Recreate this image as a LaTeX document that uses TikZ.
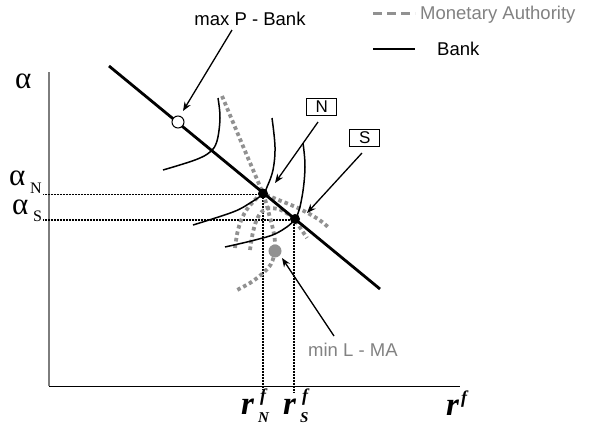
\documentclass[tikz,border=0pt]{standalone}
\usepackage{fontspec}
\setmainfont{Liberation Sans}
\newfontfamily\tms{Liberation Serif}
\usetikzlibrary{arrows.meta}
\definecolor{magray}{RGB}{145,145,145}
\definecolor{axgray}{RGB}{125,125,125}
\definecolor{txgray}{RGB}{130,130,130}
\newcommand{\fsz}[1]{\fontsize{#1}{#1}\selectfont}
\begin{document}
\begin{tikzpicture}[x=1pt,y=-1pt,
 lbl/.style={inner sep=0pt, font=\fsz{18.5}},
 axisv/.style={draw=axgray, line width=1.4pt},
 axish/.style={draw=black, line width=1pt},
 bankln/.style={line width=2.8pt},
 iso/.style={line width=1.5pt},
 maln/.style={draw=magray, line width=3.8pt, dash pattern=on 3.6pt off 3pt},
 guide/.style={line width=1.3pt, dash pattern=on 1pt off 0.5pt},
 arr/.style={line width=1.3pt, -{Stealth[length=9pt,width=7pt]}},
 boxlbl/.style={draw, line width=0.8pt, minimum width=30pt, minimum height=17pt, inner sep=0pt, font=\fsz{17}},
 greek/.style={inner sep=0pt, font=\tms\fsz{31}},
 gsub/.style={inner sep=0pt, font=\tms\fsz{16}},
 rlab/.style={inner sep=0pt, font=\tms\bfseries\itshape\fsz{33}},
 rsup/.style={inner sep=0pt, font=\tms\bfseries\itshape\fsz{18}},
 rsub/.style={inner sep=0pt, font=\tms\bfseries\itshape\fsz{15}},
]
\fill[white] (0,0) rectangle (595,426);
\useasboundingbox (0,0) rectangle (595,426);

% key points
\coordinate (N) at (263,193.5);
\coordinate (S) at (295,219);
\coordinate (L) at (275,251);
\coordinate (P) at (178,122);

% axes
\coordinate (O) at (49,386);
\coordinate (Ytop) at (49,72);
\coordinate (Xend) at (460,386);
\draw[axisv] (O) -- (Ytop);
\draw[axish] (O) -- (Xend);

% guide lines
\coordinate (gN) at (43,194.5);
\coordinate (gS) at (43,220);
\coordinate (bN) at (263,390);
\coordinate (bS) at (294,392);
\draw[guide] (gN) -- (N |- gN);
\draw[guide] (gS) -- (S |- gS);
\draw[guide] (N) -- (bN);
\draw[guide] (294,219) -- (bS);

% Monetary authority curves
\draw[maln] plot[smooth, tension=0.55] coordinates {(222,96) (242.5,145) (263,194) (269,214) (274,234) (275,250) (271,264) (262,274) (250,283) (237,290)};
\draw[maln] plot[smooth, tension=0.6] coordinates {(235,248) (238,230) (244,214) (253,202) (263,195) (281,201) (300,209) (318,219) (328,227)};
\draw[maln] plot[smooth, tension=0.6] coordinates {(250,250) (253,232) (258,217) (266,209) (278,209) (288,214) (295,220) (301,229) (307,238)};

% Bank iso-profit curves
\draw[iso] plot[smooth, tension=0.6] coordinates {(218,98) (220,118) (217,141) (210,152) (195,160) (163,170)};
\draw[iso] plot[smooth, tension=0.6] coordinates {(272,118) (275,147) (273,170) (267,187) (263,194) (250,203) (233,212) (193,225)};
\draw[iso] plot[smooth, tension=0.6] coordinates {(303,143) (305,167) (302,197) (295,219) (277,233) (255,240) (225,247)};

% Bank reaction line
\coordinate (B1) at (109,66);
\coordinate (B2) at (380,289);
\draw[bankln] (B1) -- (B2);

% points
\node[circle, draw, fill=white, line width=1pt, inner sep=0pt, minimum size=12pt] (Pdot) at (P) {};
\node[circle, fill=black, inner sep=0pt, minimum size=10pt] (Ndot) at (N) {};
\node[circle, fill=black, inner sep=0pt, minimum size=10pt] (Sdot) at (S) {};
\node[circle, fill=magray, inner sep=0pt, minimum size=13pt] (Ldot) at (L) {};

% labels
\node[lbl, anchor=base] (maxP) at (250,25) {max P - Bank};
\node[boxlbl] (Nbox) at (321.7,106.7) {N};
\node[boxlbl] (Sbox) at (364.7,137.5) {S};
\node[lbl, anchor=base west, text=txgray] (minL) at (308,356) {min L - MA};

% arrows
\coordinate (aP0) at (232,30);
\coordinate (aP1) at (183,111);
\coordinate (aN0) at (318,122);
\coordinate (aN1) at (275,183);
\coordinate (aS0) at (362,153);
\coordinate (aS1) at (307,213);
\coordinate (aL0) at (334,336);
\coordinate (aL1) at (282,258);
\draw[arr] (aP0) -- (aP1);
\draw[arr] (aN0) -- (aN1);
\draw[arr] (aS0) -- (aS1);
\draw[arr] (aL0) -- (aL1);

% legend
\coordinate (lg1a) at (373,13);
\coordinate (lg1b) at (415,13);
\coordinate (lg2a) at (373,49);
\coordinate (lg2b) at (415,49);
\draw[draw=magray, line width=3pt, dash pattern=on 9pt off 5pt] (lg1a) -- (lg1b);
\draw[line width=1.6pt] (lg2a) -- (lg2b);
\node[lbl, anchor=base west, text=txgray] (lgMA) at (420,19) {Monetary Authority};
\node[lbl, anchor=base west] (lgB) at (437,55) {Bank};

% axis labels
\node[greek, anchor=base west] (alpha) at (15,88) {α};
\node[greek, anchor=base west] (alphaN) at (9,185.5) {α};
\node[gsub, anchor=base west] (alphaNs) at (30,193) {N};
\node[greek, anchor=base west] (alphaS) at (12,214) {α};
\node[gsub, anchor=base west] (alphaSs) at (33,221.5) {S};

\node[rlab, anchor=base west] (rf) at (446,415) {r};
\node[rsup, anchor=base west] (rfs) at (461,403) {f};
\node[rlab, anchor=base west] (rN) at (241,414) {r};
\node[rsup, anchor=base west] (rNsup) at (260,401) {f};
\node[rsub, anchor=base west] (rNsub) at (258,422.5) {N};
\node[rlab, anchor=base west] (rS) at (283,414) {r};
\node[rsup, anchor=base west] (rSsup) at (302,401) {f};
\node[rsub, anchor=base west] (rSsub) at (300,422.5) {S};
\end{tikzpicture}
\end{document}
